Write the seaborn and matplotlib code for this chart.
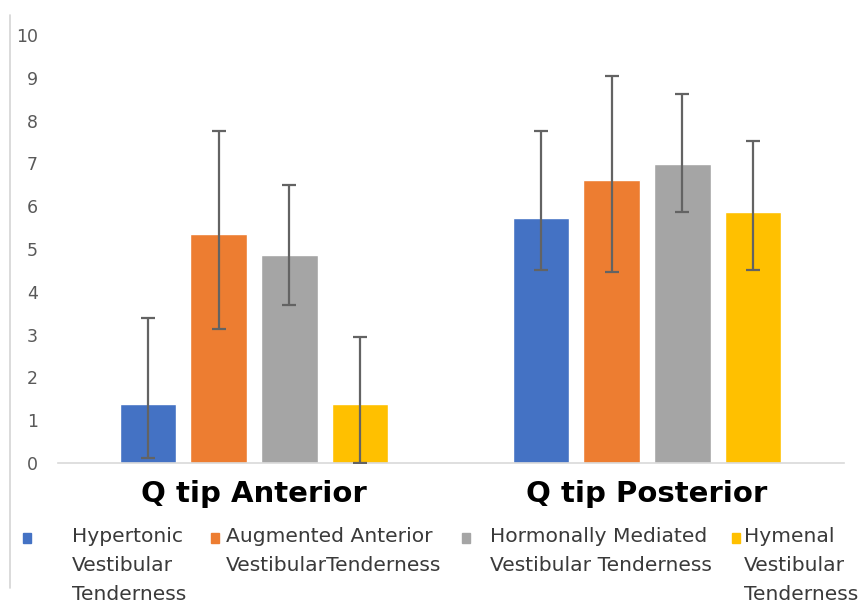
import numpy as np
import pandas as pd
import matplotlib
matplotlib.use("Agg")
import matplotlib.pyplot as plt
from matplotlib.patches import Rectangle
from matplotlib.lines import Line2D
import seaborn as sns

# data
groups = ["Q tip Anterior", "Q tip Posterior"]
series = [
    "Hypertonic\nVestibular\nTenderness",
    "Augmented Anterior\nVestibularTenderness",
    "Hormonally Mediated\nVestibular Tenderness",
    "Hymenal\nVestibular\nTenderness",
]
anterior_mean = [1.37, 5.34, 4.86, 1.37]
anterior_lo = [0.12, 3.14, 3.68, 0.0]
anterior_hi = [3.38, 7.76, 6.49, 2.94]
posterior_mean = [5.73, 6.60, 6.99, 5.87]
posterior_lo = [4.50, 4.46, 5.86, 4.50]
posterior_hi = [7.76, 9.03, 8.63, 7.52]

colors = ["#4472C4", "#ED7D31", "#A5A5A5", "#FFC000"]

rows = []
for i, s in enumerate(series):
    rows.append((groups[0], s, anterior_mean[i], anterior_lo[i], anterior_hi[i]))
    rows.append((groups[1], s, posterior_mean[i], posterior_lo[i], posterior_hi[i]))
df = pd.DataFrame(rows, columns=["group", "series", "value", "lo", "hi"])

sns.set_style("white")
plt.rcParams["font.family"] = ["DejaVu Sans"]

fig = plt.figure(figsize=(8.6, 6.13), dpi=100)
ax = fig.add_axes([0.0669, 0.2447, 0.9140, 0.6983])

sns.barplot(data=df, x="group", y="value", hue="series", order=groups,
            hue_order=series, palette=colors, width=0.72, gap=0.2,
            errorbar=None, legend=False, ax=ax, saturation=1)

# asymmetric error bars on top of each bar
for cont, s in zip(ax.containers, series):
    sub = df[df["series"] == s].set_index("group").loc[groups]
    xs = [p.get_x() + p.get_width() / 2 for p in cont]
    ys = sub["value"].to_numpy()
    yerr = np.vstack([ys - sub["lo"].to_numpy(), sub["hi"].to_numpy() - ys])
    ax.errorbar(xs, ys, yerr=yerr, fmt="none", ecolor="#636363",
                elinewidth=1.6, capsize=5, capthick=1.6, zorder=3)

ax.set_ylim(0, 10)
ax.set_xlim(-0.5, 1.5)
ax.set_yticks(range(0, 11))
ax.set_xlabel("")
ax.set_ylabel("")
for sp in ["top", "right", "left"]:
    ax.spines[sp].set_visible(False)
ax.spines["bottom"].set_color("#D9D9D9")
ax.spines["bottom"].set_linewidth(1.2)
ax.tick_params(axis="y", length=0, pad=14, labelsize=12.5, labelcolor="#595959")
ax.tick_params(axis="x", length=0, pad=12)
for lab in ax.get_xticklabels():
    lab.set_fontsize(21)
    lab.set_fontweight("bold")
    lab.set_color("black")

# frame line on the left edge of the image
fig.add_artist(Line2D([10 / 860, 10 / 860], [1 - 15 / 613, 1 - 588 / 613],
                      transform=fig.transFigure, color="#D4D4D4", lw=1.2))

# legend laid out like the original, markers level with first line
marker_x = [27, 215, 466, 736]
text_x = [72, 226, 490, 744]
for mx, tx, s, c in zip(marker_x, text_x, series, colors):
    fig.patches.append(Rectangle(((mx - 4) / 860, 1 - 543 / 613), 8 / 860, 10 / 613,
                                 transform=fig.transFigure, color=c))
    fig.text(tx / 860, 1 - 527 / 613, s, ha="left", va="top", fontsize=14.6,
             color="#3A3A3A", linespacing=1.66)

fig.savefig("out.png", dpi=100)
